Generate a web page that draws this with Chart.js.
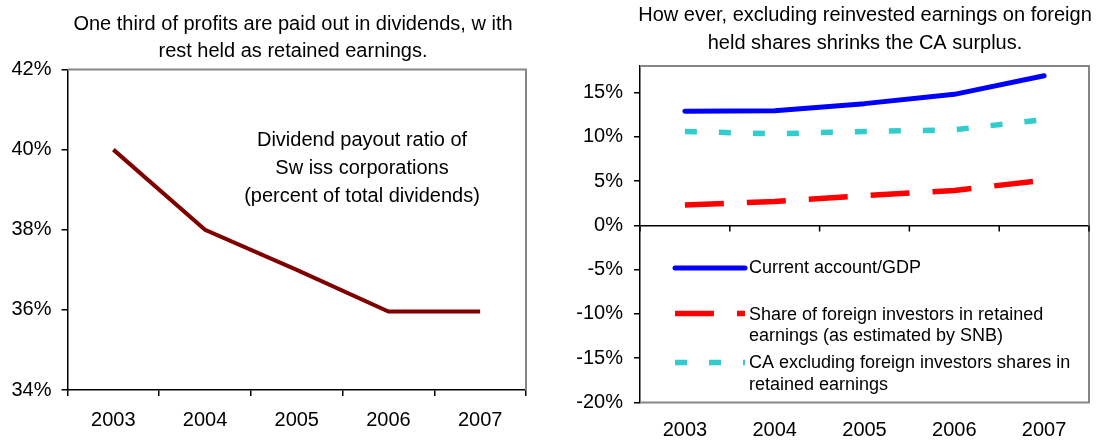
<!DOCTYPE html>
<html><head><meta charset="utf-8">
<script src="https://cdn.jsdelivr.net/npm/chart.js@4.4.1/dist/chart.umd.min.js"></script>
<style>
html,body{margin:0;padding:0;background:#fff;width:1104px;height:442px;overflow:hidden}
#c1{position:absolute;left:0;top:0}
#c2{position:absolute;left:560px;top:0}
</style></head><body>
<canvas id="c1" width="560" height="442"></canvas>
<canvas id="c2" width="544" height="442"></canvas>
<script>
// ---- data ----
const years = ['2003', '2004', '2005', '2006', '2007'];
const payoutRatio = [40, 38, 37, 35.96, 35.96];
const currentAccount = [12.9, 12.95, 13.75, 14.8, 16.9];
const foreignShare = [2.3, 2.7, 3.35, 3.95, 5.1];
const caExcluding = [10.6, 10.35, 10.6, 10.8, 11.95];
const leftTicks = [34, 36, 38, 40, 42];
const rightTicks = [-20, -15, -10, -5, 0, 5, 10, 15];
const leftTitle = ['One third of profits are paid out in dividends, w ith', 'rest held as retained earnings.'];
const rightTitle = ['How ever, excluding reinvested earnings on foreign', 'held shares shrinks the CA surplus.'];
const leftNote = ['Dividend payout ratio of', 'Sw iss corporations', '(percent of total dividends)'];
const legendLines = [
  ['Current account/GDP'],
  ['Share of foreign investors in retained', 'earnings (as estimated by SNB)'],
  ['CA excluding foreign investors shares in', 'retained earnings']
];

const FONT = '"Liberation Sans", Arial, Helvetica, sans-serif';
Chart.defaults.font.family = FONT;
Chart.defaults.color = '#000';

const textPlugin = {
  id: 'texts',
  afterDraw(chart, args, o) {
    const ctx = chart.ctx;
    ctx.save();
    ctx.fillStyle = '#000';
    ctx.textBaseline = 'middle';
    ctx.textAlign = 'center';
    (o.blocks || []).forEach(b => {
      ctx.font = b.size + 'px ' + FONT;
      b.lines.forEach((t, k) => ctx.fillText(t, b.x, b.y + k * b.lh));
    });
    ctx.restore();
  }
};

const framePlugin = {
  id: 'frame',
  beforeDatasetsDraw(chart, args, o) {
    const ctx = chart.ctx, a = chart.chartArea;
    ctx.save();
    ctx.strokeStyle = '#868686';
    ctx.lineWidth = 2;
    ctx.beginPath();
    ctx.moveTo(a.left, a.top); ctx.lineTo(a.right, a.top);
    ctx.lineTo(a.right, a.bottom);
    if (o.bottom) ctx.lineTo(a.left, a.bottom);
    ctx.stroke();
    if (o.zeroTicks) {
      const xs = chart.scales.x, ys = chart.scales.y;
      const y0 = ys.getPixelForValue(0);
      ctx.strokeStyle = '#000';
      ctx.lineWidth = 1.5;
      ctx.beginPath();
      for (let i = 0; i <= chart.data.labels.length; i++) {
        const x = xs.getPixelForValue(i - 0.5);
        ctx.moveTo(x, y0); ctx.lineTo(x, y0 + 6);
      }
      ctx.stroke();
    }
    ctx.restore();
  }
};

const legendPlugin = {
  id: 'sideLegend',
  afterDraw(chart, args, o) {
    const ctx = chart.ctx, a = chart.chartArea;
    ctx.save();
    chart.data.datasets.forEach((ds, i) => {
      const ty = o.rows[i];
      const ly = ty + o.lineOffset[i];
      ctx.beginPath();
      ctx.strokeStyle = ds.borderColor;
      ctx.lineWidth = ds.borderWidth;
      ctx.setLineDash(ds.borderDash || []);
      ctx.lineCap = ds.borderCapStyle || 'butt';
      ctx.moveTo(a.left + o.x1, ly);
      ctx.lineTo(a.left + o.x2, ly);
      ctx.stroke();
      ctx.setLineDash([]);
      ctx.fillStyle = '#000';
      ctx.font = o.size + 'px ' + FONT;
      ctx.textBaseline = 'middle';
      ctx.textAlign = 'left';
      legendLines[i].forEach((t, k) => ctx.fillText(t, a.left + o.tx, ty + k * o.lh));
    });
    ctx.restore();
  }
};

// ---- left chart ----
new Chart(document.getElementById('c1'), {
  type: 'line',
  data: {
    labels: years,
    datasets: [{
      label: 'Dividend payout ratio of Swiss corporations',
      data: payoutRatio,
      borderColor: '#800000',
      borderWidth: 4,
      pointRadius: 0,
      tension: 0,
      fill: false
    }]
  },
  options: {
    responsive: false, animation: false, devicePixelRatio: 1,
    layout: { padding: { top: 69.5, right: 34, left: 0, bottom: 0 } },
    plugins: {
      legend: { display: false }, title: { display: false }, tooltip: { enabled: false },
      frame: { bottom: false },
      texts: { blocks: [
        { lines: leftTitle, x: 293, y: 24.5, lh: 27.3, size: 20 },
        { lines: leftNote, x: 362, y: 140, lh: 28.4, size: 20 }
      ] }
    },
    scales: {
      x: {
        offset: true,
        grid: { offset: true, drawOnChartArea: false, drawTicks: true, tickLength: 6, color: '#000', lineWidth: 1.5 },
        border: { display: true, color: '#000', width: 1.5 },
        ticks: { font: { size: 20 }, color: '#000', padding: 12, maxRotation: 0, autoSkip: false },
        afterFit: s => { s.height = 52; }
      },
      y: {
        min: 34, max: 42,
        afterBuildTicks: s => { s.ticks = leftTicks.map(v => ({ value: v })); },
        grid: { drawOnChartArea: false, drawTicks: true, tickLength: 6, color: '#000', lineWidth: 1.5 },
        border: { display: true, color: '#000', width: 1.5 },
        ticks: { font: { size: 20 }, color: '#000', padding: 10, callback: v => v + '%' },
        afterFit: s => { s.width = 67.5; }
      }
    }
  },
  plugins: [framePlugin, textPlugin]
});

// ---- right chart ----
new Chart(document.getElementById('c2'), {
  type: 'line',
  data: {
    labels: years,
    datasets: [
      { label: legendLines[0].join(' '), data: currentAccount, borderColor: '#0000FF', borderWidth: 5,
        borderCapStyle: 'round', borderJoinStyle: 'round', pointRadius: 0, tension: 0, fill: false },
      { label: legendLines[1].join(' '), data: foreignShare, borderColor: '#FF0000', borderWidth: 5.5,
        borderDash: [39, 23], borderCapStyle: 'butt', pointRadius: 0, tension: 0, fill: false },
      { label: legendLines[2].join(' '), data: caExcluding, borderColor: '#33CCCC', borderWidth: 5.5,
        borderDash: [12, 22], borderCapStyle: 'butt', pointRadius: 0, tension: 0, fill: false }
    ]
  },
  options: {
    responsive: false, animation: false, devicePixelRatio: 1,
    layout: { padding: { top: 66, right: 15, left: 0, bottom: 0 } },
    plugins: {
      legend: { display: false }, title: { display: false }, tooltip: { enabled: false },
      frame: { bottom: true, zeroTicks: true },
      texts: { blocks: [
        { lines: rightTitle, x: 305, y: 15, lh: 28.3, size: 20 }
      ] },
      sideLegend: { rows: [268, 315, 363.5], lineOffset: [0, -1.5, -1], x1: 35, x2: 105, tx: 109, lh: 21.5, size: 18 }
    },
    scales: {
      x: {
        offset: true,
        grid: { display: false, drawTicks: false, drawOnChartArea: false },
        border: { display: false },
        ticks: { font: { size: 20 }, color: '#000', padding: 15.5, maxRotation: 0, autoSkip: false },
        afterFit: s => { s.height = 39.5; }
      },
      y: {
        min: -20, max: 18,
        afterBuildTicks: s => { s.ticks = rightTicks.map(v => ({ value: v })); },
        grid: {
          drawOnChartArea: true, drawTicks: true, tickLength: 6,
          color: c => (c.tick && c.tick.value === 0) ? '#000' : 'rgba(0,0,0,0)',
          tickColor: '#000', lineWidth: 1.5
        },
        border: { display: true, color: '#000', width: 1.5 },
        ticks: { font: { size: 20 }, color: '#000', padding: 11, callback: v => v + '%' },
        afterFit: s => { s.width = 80; }
      }
    }
  },
  plugins: [framePlugin, textPlugin, legendPlugin]
});
</script>
</body></html>
